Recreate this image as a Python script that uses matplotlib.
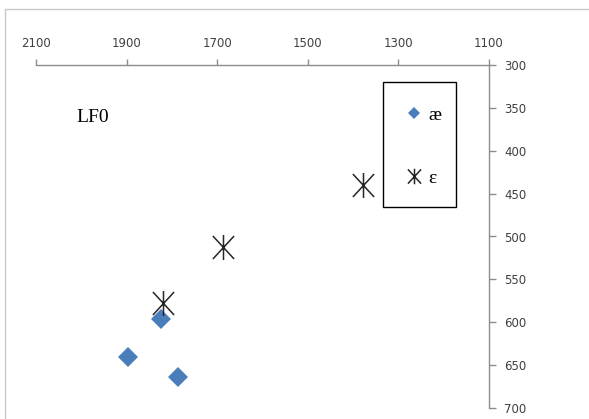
import matplotlib
matplotlib.use('Agg')
import matplotlib.pyplot as plt
from matplotlib.path import Path
from matplotlib.patches import Rectangle

# F2 (x) and F1 (y) values
ae_f2 = [1824, 1897, 1787]
ae_f1 = [596, 640, 664]
eps_f2 = [1820, 1687, 1378]
eps_f1 = [578, 512, 440]

x_ticks = [2100, 1900, 1700, 1500, 1300, 1100]
y_ticks = [300, 350, 400, 450, 500, 550, 600, 650, 700]

# excel style asterisk: vertical bar plus an X
asterisk = Path(
    [(0, -1), (0, 1), (-0.85, -0.92), (0.85, 0.92), (-0.85, 0.92), (0.85, -0.92)],
    [Path.MOVETO, Path.LINETO, Path.MOVETO, Path.LINETO, Path.MOVETO, Path.LINETO])

W, H = 589, 419
fig = plt.figure(figsize=(W / 100, H / 100), dpi=100)
# outer chart border (cut off at right / bottom like the original)
fig.patches.append(Rectangle((5 / W, -0.1), 1.2, 1 - 9 / H + 0.1, transform=fig.transFigure,
                             fill=False, edgecolor='#c8c8c8', linewidth=1))
# legend frame
fig.patches.append(Rectangle((383 / W, 1 - 207 / H), 73 / W, 125 / H, transform=fig.transFigure,
                             fill=False, edgecolor='black', linewidth=1, zorder=5))

ax = fig.add_axes([36 / W, 11 / H, (489 - 36) / W, (408 - 65) / H])
ax.set_xlim(2100, 1100)
ax.set_ylim(700, 300)

ax.plot(ae_f2, ae_f1, linestyle='none', marker='D', markersize=10,
        color='#4a7ebb', markeredgewidth=0, label='æ')
ax.plot(eps_f2, eps_f1, linestyle='none', marker=asterisk, markersize=18,
        markeredgecolor='#262626', markerfacecolor='none', markeredgewidth=1.1, label='ε')

for s in ['left', 'bottom']:
    ax.spines[s].set_visible(False)
for s in ['top', 'right']:
    ax.spines[s].set_color('#8c8c8c')
    ax.spines[s].set_linewidth(1)

ax.xaxis.tick_top()
ax.yaxis.tick_right()
ax.set_xticks(x_ticks)
ax.set_yticks(y_ticks)
ax.tick_params(axis='x', direction='out', length=4, width=1, color='#8c8c8c',
               labelsize=8.5, labelcolor='#404040', pad=7)
ax.tick_params(axis='y', direction='out', length=5, width=1, color='#8c8c8c',
               labelsize=8.5, labelcolor='#404040', pad=6)

ax.text(0.09, 0.848, 'LF0', transform=ax.transAxes, fontsize=14,
        family='Liberation Serif', color='black', va='center', ha='left')

leg = ax.legend(loc='upper left', bbox_to_anchor=(406 / W, 1 - 106 / H),
                bbox_transform=fig.transFigure, frameon=False,
                prop={'family': 'Liberation Serif', 'size': 14},
                markerscale=0.62, handlelength=0.8, handletextpad=0.33,
                labelspacing=2.35, borderpad=0, borderaxespad=0)

fig.savefig('out.png', dpi=100)
